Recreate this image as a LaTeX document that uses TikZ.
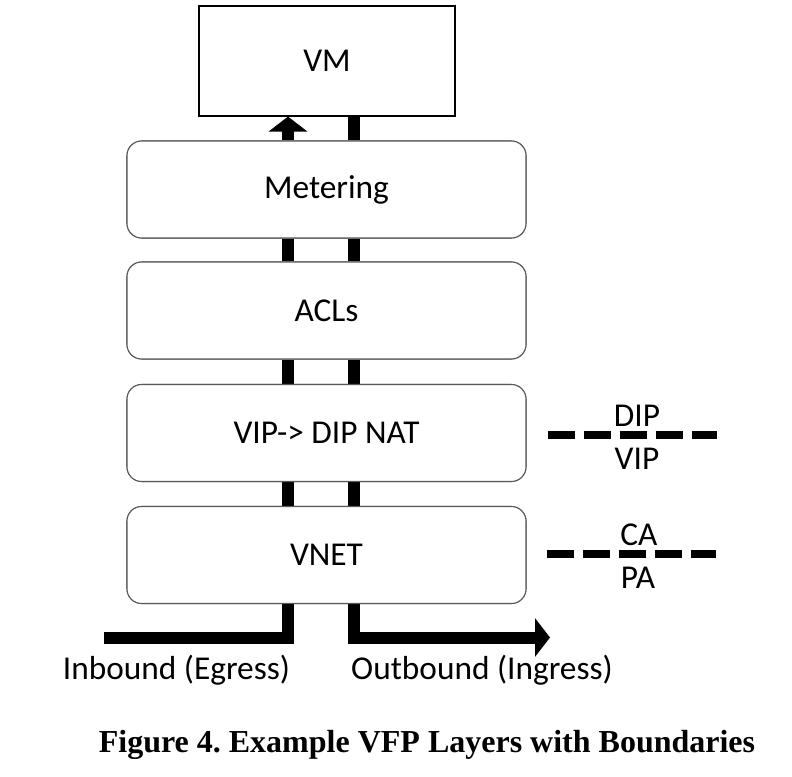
\documentclass[tikz,border=0pt]{standalone}
\usepackage{fontspec}
\setmainfont{Carlito}
\newfontfamily\capfont{Liberation Serif}
\usetikzlibrary{arrows.meta}
\frenchspacing
\begin{document}
\begin{tikzpicture}[x=0.75pt,y=-0.75pt,
  txt/.style={font=\fontsize{25}{30}\selectfont, inner sep=0pt},
  layerbox/.style={txt, draw=black!65, line width=0.8pt, rounded corners=11pt, fill=white,
    minimum width=299.25pt, minimum height=72.75pt},
  vmbox/.style={txt, draw=black, line width=0.8pt, fill=white,
    minimum width=192pt, minimum height=82.5pt},
  flow/.style={line width=9pt, line join=miter},
  bigtip/.style={-{Triangle[width=28.5pt,length=11.25pt]}},
  boundary/.style={line width=6pt, dash pattern=on 20.25pt off 6.75pt}]
\useasboundingbox (0,0) rectangle (792,777);
% reference x positions of the two flows
\coordinate (L) at (288,0);
\coordinate (R) at (354,0);
\coordinate (inL) at (104,637.5);
\coordinate (outR) at (550,637.5);
% boxes (positions only, drawn later over flows)
\path
  node[vmbox] (vm) at (327,61) {VM}
  node[layerbox] (met) at (326.5,189.5) {Metering}
  node[layerbox] (acl) at (326.5,310.5) {ACLs}
  node[layerbox] (nat) at (326.5,433) {VIP-> DIP NAT}
  node[layerbox] (vnet) at (326.5,555) {VNET};
% flows
\draw[flow] (vnet.south -| L) |- (inL);
\draw[flow,bigtip] (vnet.south -| R) |- (outR);
\foreach \a/\b in {vnet/nat, nat/acl, acl/met}{
  \draw[flow] (\a.north -| L) -- (\b.south -| L);
  \draw[flow] (\a.north -| R) -- (\b.south -| R);
}
\draw[flow,bigtip] (met.north -| L) -- (vm.south -| L);
\draw[flow] (met.north -| R) -- (vm.south -| R);
% boxes again on top
\node[vmbox] at (vm) {VM};
\node[layerbox] at (met) {Metering};
\node[layerbox] at (acl) {ACLs};
\node[layerbox] at (nat) {VIP-> DIP NAT};
\node[layerbox] at (vnet) {VNET};
% labels
\node[txt] (inlab) at (176.5,670) {Inbound (Egress)};
\node[txt] (outlab) at (482,670) {Outbound (Ingress)};
% boundaries
\coordinate (b1s) at (548,435);
\coordinate (b1e) at (717,435);
\coordinate (b2s) at (547,554);
\coordinate (b2e) at (716,554);
\draw[boundary] (b1s) -- (b1e);
\draw[boundary] (b2s) -- (b2e);
\node[txt] (dip) at (637,416) {DIP};
\node[txt] (vip) at (637,459) {VIP};
\node[txt] (ca) at (639,535) {CA};
\node[txt] (pa) at (638,578) {PA};
% caption
\node[inner sep=0pt, font=\capfont\bfseries\fontsize{24}{28}\selectfont] (cap) at (427,745) {Figure 4. Example VFP Layers with Boundaries};
\end{tikzpicture}
\end{document}
